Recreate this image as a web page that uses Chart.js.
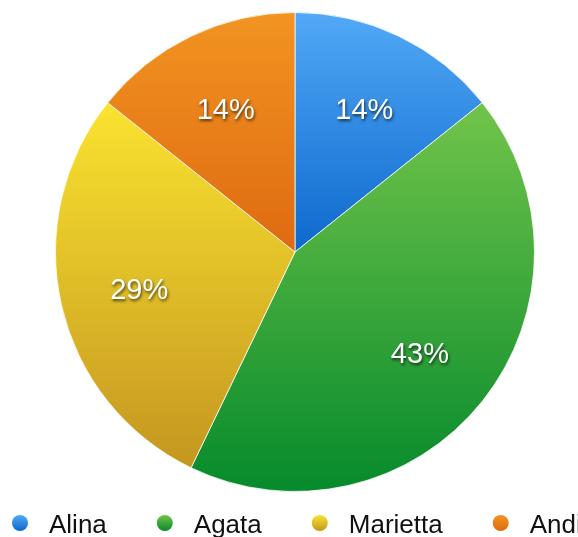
<!DOCTYPE html>
<html>
<head>
<meta charset="utf-8">
<script src="https://cdn.jsdelivr.net/npm/chart.js@4/dist/chart.umd.min.js"></script>
<style>
  html, body { margin: 0; padding: 0; background: #ffffff; overflow: hidden; }
  #wrap { width: 578px; height: 537px; position: relative; }
</style>
</head>
<body>
<div id="wrap"><canvas id="c" width="578" height="537"></canvas></div>
<script>
// ---- data ----
const categories = ['Alina', 'Agata', 'Marietta', 'Andi'];
const values = [1, 3, 2, 1];
const topColors = ['#52a9f7', '#72c44a', '#fae330', '#f29422'];
const bottomColors = ['#0c68cc', '#068a2c', '#c49620', '#de6a10'];

const FONT = '"Liberation Sans", Arial, Helvetica, sans-serif';

function sliceGradient(context) {
  const chart = context.chart;
  const area = chart.chartArea;
  const i = context.dataIndex;
  if (!area || i === undefined) return topColors[i || 0];
  const cx = (area.left + area.right) / 2;
  const cy = (area.top + area.bottom) / 2;
  const r = Math.min(area.right - area.left, area.bottom - area.top) / 2;
  const total = values.reduce((a, b) => a + b, 0);
  let before = 0;
  for (let k = 0; k < i; k++) before += values[k];
  const a0 = -Math.PI / 2 + before / total * 2 * Math.PI;
  const a1 = a0 + values[i] / total * 2 * Math.PI;
  let ys = [cy, cy + r * Math.sin(a0), cy + r * Math.sin(a1)];
  for (let k = -4; k <= 8; k++) {
    const a = k * Math.PI / 2;
    if (a > a0 && a < a1) ys.push(cy + r * Math.sin(a));
  }
  const y0 = Math.min(...ys), y1 = Math.max(...ys);
  const g = chart.ctx.createLinearGradient(0, y0, 0, y1);
  g.addColorStop(0, topColors[i]);
  g.addColorStop(1, bottomColors[i]);
  return g;
}

const labelPlugin = {
  id: 'pctLabels',
  afterDatasetsDraw(chart) {
    const ctx = chart.ctx;
    const meta = chart.getDatasetMeta(0);
    const data = chart.data.datasets[0].data;
    const total = data.reduce((a, b) => a + b, 0);
    ctx.save();
    ctx.font = '29px ' + FONT;
    ctx.textAlign = 'center';
    ctx.textBaseline = 'middle';
    ctx.fillStyle = '#ffffff';
    ctx.shadowColor = 'rgba(0,0,0,0.65)';
    ctx.shadowOffsetX = 1;
    ctx.shadowOffsetY = 2;
    ctx.shadowBlur = 3;
    meta.data.forEach((el, i) => {
      const p = el.getProps(['x', 'y', 'startAngle', 'endAngle', 'outerRadius'], true);
      const mid = (p.startAngle + p.endAngle) / 2;
      const d = p.outerRadius * 0.667;
      const x = p.x + Math.cos(mid) * d;
      const y = p.y + Math.sin(mid) * d + 3;
      ctx.fillText(Math.round(data[i] / total * 100) + '%', x, y);
    });
    ctx.restore();
  }
};

const legendPlugin = {
  id: 'bottomLegend',
  afterDraw(chart) {
    const ctx = chart.ctx;
    ctx.save();
    ctx.font = '26px ' + FONT;
    ctx.textAlign = 'left';
    ctx.textBaseline = 'alphabetic';
    let cx = 20;
    const cy = 523;
    const rad = 8;
    chart.data.labels.forEach((lab, i) => {
      const g = ctx.createLinearGradient(0, cy - rad, 0, cy + rad);
      g.addColorStop(0, topColors[i]);
      g.addColorStop(1, bottomColors[i]);
      ctx.beginPath();
      ctx.arc(cx, cy, rad, 0, Math.PI * 2);
      ctx.fillStyle = g;
      ctx.fill();
      const tx = cx + 29;
      ctx.fillStyle = '#111111';
      ctx.fillText(lab, tx, 533);
      const w = ctx.measureText(lab).width;
      cx = tx + w + 58;
    });
    ctx.restore();
  }
};

new Chart(document.getElementById('c'), {
  type: 'pie',
  data: {
    labels: categories,
    datasets: [{
      data: values,
      backgroundColor: sliceGradient,
      borderColor: 'rgba(255,255,255,0.75)',
      borderWidth: 1,
      hoverOffset: 0
    }]
  },
  options: {
    responsive: false,
    animation: false,
    devicePixelRatio: 1,
    layout: { padding: { top: 12, bottom: 45, left: 12, right: 0 } },
    plugins: {
      legend: { display: false },
      tooltip: { enabled: false }
    }
  },
  plugins: [labelPlugin, legendPlugin]
});
</script>
</body>
</html>
